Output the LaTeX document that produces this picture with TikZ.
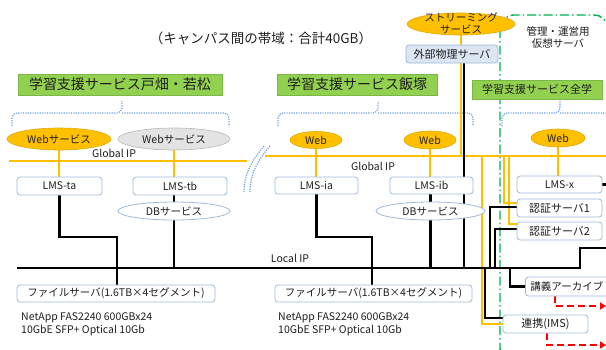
\documentclass[tikz,border=0pt]{standalone}
\usepackage{fontspec}
\setmainfont{Noto Sans CJK JP}
\usetikzlibrary{shapes.geometric,arrows.meta,calc}
\definecolor{gold}{HTML}{FFC000}
\definecolor{golddk}{HTML}{E0A800}
\definecolor{lime}{HTML}{92D050}
\definecolor{limedk}{HTML}{7AB648}
\definecolor{bxblue}{HTML}{9FBAD9}
\definecolor{extfill}{HTML}{DCE6F2}
\definecolor{brblue}{HTML}{6FA0D8}
\definecolor{mgreen}{HTML}{00B050}
\definecolor{txt}{HTML}{1E1E1E}
\definecolor{grayfill}{HTML}{E3E3E3}
\definecolor{graydk}{HTML}{B8B8B8}
\pgfdeclarelayer{bg}\pgfsetlayers{bg,main}
\begin{document}
\begin{tikzpicture}[x=1pt,y=-1pt,
 every node/.style={text=txt, inner sep=0pt},
 gbox/.style={draw=limedk, fill=lime, line width=0.8pt, font=\fontsize{14}{14}\selectfont},
 srv/.style={draw=bxblue, fill=white, rounded corners=3pt, line width=0.8pt, font=\fontsize{10.5}{10.5}\selectfont},
 srvj/.style={srv, font=\fontsize{11}{11}\selectfont},
 webo/.style={ellipse, draw=golddk, fill=gold, line width=0.6pt, font=\fontsize{10.5}{10.5}\selectfont},
 webg/.style={ellipse, draw=graydk, fill=grayfill, line width=0.6pt, font=\fontsize{10.5}{10.5}\selectfont},
 dbe/.style={ellipse, draw=bxblue, fill=white, line width=0.8pt, font=\fontsize{10.5}{10.5}\selectfont},
 lbl/.style={font=\fontsize{10.5}{10.5}\selectfont},
 spec/.style={anchor=west, align=left, font=\fontsize{10.5}{12.5}\selectfont},
 ol/.style={draw=gold, line width=2.8pt},
 bl/.style={draw=black, line width=2.8pt},
 rl/.style={draw=red, line width=2.2pt, dash pattern=on 7pt off 4pt, -{Triangle[length=6pt,width=7pt]}},
 brc/.style={draw=brblue, line width=1.2pt, dash pattern=on 1.2pt off 1.2pt},
 mgmt/.style={draw=mgreen, line width=1.4pt, dash pattern=on 9pt off 3pt on 1.5pt off 3pt}]
\useasboundingbox (0,0) rectangle (606,349);

% title & group labels
\node[font=\fontsize{13.5}{13.5}\selectfont] (title) at (261,38) {（キャンパス間の帯域：合計40GB）};
\node[gbox, minimum width=204, minimum height=21] (tw) at (120,84.5) {学習支援サービス戸畑・若松};
\node[gbox, minimum width=160, minimum height=21] (ti) at (357,84.5) {学習支援サービス飯塚};
\node[gbox, minimum width=130, minimum height=19, font=\fontsize{11}{11}\selectfont] (tz) at (537,89.5) {学習支援サービス全学};

% streaming / external / management
\node[ellipse, draw=golddk, fill=gold, line width=0.6pt, minimum width=108, minimum height=22] (st) at (461,24) {};
\node[align=center, font=\fontsize{10.5}{12}\selectfont] (stt) at (461,23) {ストリーミング\\サービス};
\node[srvj, fill=extfill, minimum width=92, minimum height=18] (ext) at (452,54) {外部物理サーバ};
\node[align=center, font=\fontsize{10.5}{11.5}\selectfont] (mg) at (558,37.5) {管理・運営用\\仮想サーバ};

% left cluster
\node[webo, minimum width=104, minimum height=22] (w1) at (59,139) {Webサービス};
\node[webg, minimum width=112, minimum height=22] (w2) at (174,139) {Webサービス};
\node[srv, minimum width=85, minimum height=18] (lta) at (59.5,186) {LMS-ta};
\node[srv, minimum width=94, minimum height=18] (ltb) at (180,186) {LMS-tb};
\node[dbe, minimum width=112, minimum height=18] (db1) at (174,211) {DBサービス};
\node[srv, minimum width=198, minimum height=17] (fs1) at (116,293.5) {ファイルサーバ(1.6TB×4セグメント)};
\node[spec] (n1) at (21,324.5) {NetApp FAS2240 600GBx24\\10GbE SFP+ Optical 10Gb};

% middle cluster
\node[webo, minimum width=52, minimum height=17] (w3) at (316,140) {Web};
\node[webo, minimum width=52, minimum height=18] (w4) at (430,140) {Web};
\node[srv, minimum width=83, minimum height=17] (lia) at (316.5,185.5) {LMS-ia};
\node[srv, minimum width=83, minimum height=17] (lib) at (431.5,185.5) {LMS-ib};
\node[dbe, minimum width=109, minimum height=18] (db2) at (430.5,211) {DBサービス};
\node[srv, minimum width=197, minimum height=17] (fs2) at (373.5,293.5) {ファイルサーバ(1.6TB×4セグメント)};
\node[spec] (n2) at (278,324.5) {NetApp FAS2240 600GBx24\\10GbE SFP+ Optical 10Gb};

% right cluster
\node[webo, minimum width=54, minimum height=18] (w5) at (558,138) {Web};
\node[srv, minimum width=85, minimum height=17] (lmsx) at (559.5,184.5) {LMS-x};
\node[srvj, minimum width=85, minimum height=18] (au1) at (559.5,208) {認証サーバ1};
\node[srvj, minimum width=85, minimum height=18] (au2) at (559.5,231) {認証サーバ2};
\node[srv, anchor=west, text width=90, align=left, inner xsep=5pt, minimum height=19, font=\fontsize{10.5}{10.5}\selectfont] (arch) at (525,286.5) {講義アーカイブ};
\node[srvj, minimum width=85, minimum height=18] (ims) at (545.5,324) {連携(IMS)};

% network labels
\node[lbl] (g1) at (114,153) {Global IP};
\node[lbl] (g2) at (373,166) {Global IP};
\node[lbl] (lip) at (290,258) {Local IP};

% coordinates
\coordinate (gL1) at (9,161); \coordinate (gL2) at (247,161);
\coordinate (gR1) at (265,156); \coordinate (gR2) at (606,156);
\coordinate (lL) at (17,268); \coordinate (lR) at (580,268); \coordinate (lE) at (606,248);
\coordinate (j1) at (117,237); \coordinate (j2) at (372,237);
\coordinate (xk) at (464,63);
\coordinate (o1) at (482,156); \coordinate (o2) at (504,156); \coordinate (o3) at (509,156);
\coordinate (k1) at (490,268); \coordinate (k2) at (495,268); \coordinate (k3) at (510,268); \coordinate (k4) at (485,268);
\coordinate (xr) at (606,184.5);
\coordinate (r1) at (555,296); \coordinate (r1e) at (606,306);
\coordinate (r2) at (547,333); \coordinate (r2e) at (606,345);

\begin{pgfonlayer}{bg}
% management frame
\draw[mgmt, rounded corners=14pt] (500,15) rectangle (608,362);
% braces
\draw[brc, rounded corners=5pt] (12,126) |- (122,113) -- (122,101);
\draw[brc, rounded corners=5pt] (122,113) -| (229,126);
\draw[brc, rounded corners=5pt] (278,126) |- (378,113) -- (378,101);
\draw[brc, rounded corners=5pt] (378,113) -| (473,126);
\draw[brc, rounded corners=5pt] (502,126) |- (560,113) -- (560,101);
\draw[brc, rounded corners=5pt] (560,113) -| (620,126);
% break marks
\draw[brc] (264,146) .. controls (254,158) and (244,172) .. (244,192);
\draw[brc] (270,146) .. controls (260,158) and (250,172) .. (250,192);
% global IP
\draw[ol] (gL1) -- (gL2);
\draw[ol] (gR1) -- (gR2);
\draw[ol] (w1.south) -- (w1.south |- lta.north);
\draw[ol] (w2.south) -- (w2.south |- ltb.north);
\draw[ol] (w3.south) -- (w3.south |- lia.north);
\draw[ol] (w4.south) -- (w4.south |- lib.north);
\draw[ol] (w5.south) -- (w5.south |- lmsx.north);
\draw[ol] (st.south) -- (st.south |- gR1);
\draw[ol] (o1) |- (ims.west);
\draw[ol] (o2) |- ($(au1.west)+(0,-5)$);
\draw[ol] (o3) |- ($(au2.west)+(0,-7)$);
% local IP
\draw[bl] (lL) -- (lR) |- (lE);
\draw[bl] (lta.south) |- (j1) -- (j1 |- fs1.north);
\draw[bl] (db1.north) -- (db1.north |- ltb.south);
\draw[bl] (db1.south) -- (db1.south |- lL);
\draw[bl] (lia.south) |- (j2) -- (j2 |- fs2.north);
\draw[bl] (db2.north) -- (db2.north |- lib.south);
\draw[bl] (db2.south) -- (db2.south |- lL);
\draw[bl] (xk) -- (xk |- lL);
\draw[bl] ($(au1.west)+(0,-1)$) -| (k1);
\draw[bl] ($(au2.west)+(0,-2)$) -| (k2);
\draw[bl] (k3) |- (arch.west);
\draw[bl] (k4) |- ($(ims.west)+(0,-6)$);
\draw[bl] (lmsx.east) -- (xr);
% red arrows
\draw[rl] (r1) |- (r1e);
\draw[rl] (r2) |- (r2e);
\end{pgfonlayer}
\end{tikzpicture}
\end{document}
